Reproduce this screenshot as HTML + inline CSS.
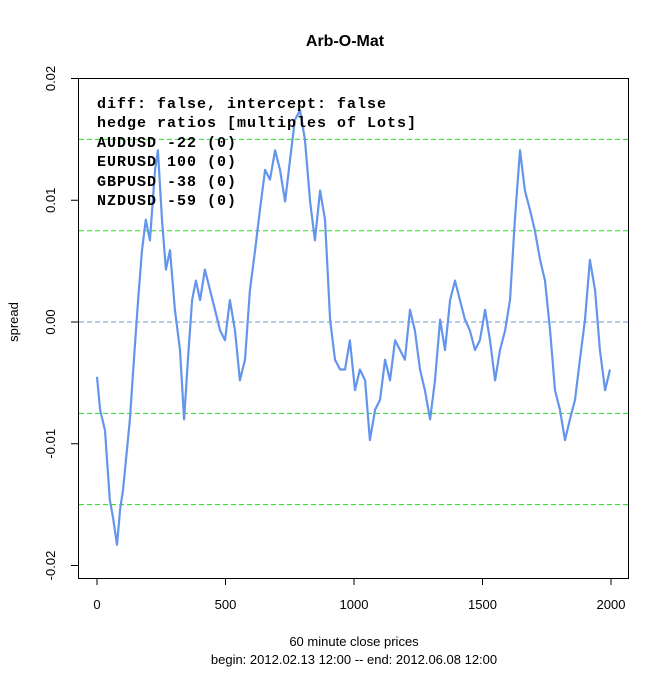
<!DOCTYPE html>
<html><head><meta charset="utf-8"><style>
body{margin:0;background:#fff}
svg text{font-family:"Liberation Sans",Arial,sans-serif}
</style></head><body>
<svg id="chart" width="672" height="672" xmlns="http://www.w3.org/2000/svg">
<rect width="672" height="672" fill="#fff"/>
<text x="345" y="46" text-anchor="middle" font-size="16" font-weight="bold">Arb-O-Mat</text>
<g id="grid"></g>
<g id="series"></g>
<rect x="78.5" y="78.5" width="550" height="500" fill="none" stroke="#000"/>
<g id="axes"></g>
<g font-weight="bold" font-size="15" letter-spacing="1">
<text x="97" y="108" style="font-family:'Liberation Mono',monospace">diff: false, intercept: false</text>
<text x="97" y="127" style="font-family:'Liberation Mono',monospace">hedge ratios [multiples of Lots]</text>
<text x="97" y="147" style="font-family:'Liberation Mono',monospace">AUDUSD -22 (0)</text>
<text x="97" y="166" style="font-family:'Liberation Mono',monospace">EURUSD 100 (0)</text>
<text x="97" y="186" style="font-family:'Liberation Mono',monospace">GBPUSD -38 (0)</text>
<text x="97" y="205" style="font-family:'Liberation Mono',monospace">NZDUSD -59 (0)</text>
</g>
<text transform="translate(18,322) rotate(-90)" text-anchor="middle" font-size="13">spread</text>
<text x="354" y="646" text-anchor="middle" font-size="13">60 minute close prices</text>
<text x="354" y="664" text-anchor="middle" font-size="13">begin: 2012.02.13 12:00 -- end: 2012.06.08 12:00</text>
</svg>
<script>
const xTicks=[0,500,1000,1500,2000];
const yTicks=[-0.02,-0.01,0.00,0.01,0.02];
const yTickLabels=["-0.02","-0.01","0.00","0.01","0.02"];
const bandLevels=[-0.015,-0.0075,0.0075,0.015];
const meanLevel=[0];
const idx=[0,12,31,50,62,78,90,101,113,128,144,160,175,190,206,226,237,253,268,284,303,323,339,354,370,385,401,420,440,459,479,498,517,537,556,576,595,615,634,654,673,693,712,732,751,770,790,809,829,848,868,887,907,926,946,965,984,1004,1023,1043,1062,1082,1101,1121,1140,1160,1179,1198,1218,1237,1257,1276,1296,1315,1335,1354,1374,1393,1412,1432,1451,1471,1490,1510,1529,1549,1568,1588,1607,1626,1646,1665,1685,1704,1724,1743,1763,1782,1801,1821,1840,1860,1879,1899,1918,1938,1957,1977,1996];
const spread=[-0.0045,-0.0072,-0.0089,-0.0146,-0.016,-0.0183,-0.0154,-0.0138,-0.0113,-0.008,-0.003,0.0018,0.0059,0.0084,0.0067,0.0125,0.0141,0.0084,0.0043,0.0059,0.001,-0.0023,-0.008,-0.003,0.0018,0.0034,0.0018,0.0043,0.0026,0.001,-0.0007,-0.0015,0.0018,-0.0007,-0.0048,-0.0031,0.0026,0.0059,0.0092,0.0125,0.0117,0.0141,0.0125,0.0099,0.0133,0.0166,0.0174,0.015,0.0099,0.0067,0.0108,0.0084,0.0002,-0.0031,-0.0039,-0.0039,-0.0015,-0.0056,-0.0039,-0.0048,-0.0097,-0.0072,-0.0064,-0.0031,-0.0048,-0.0015,-0.0023,-0.0031,0.001,-0.0007,-0.0039,-0.0056,-0.008,-0.0048,0.0002,-0.0023,0.0018,0.0034,0.0018,0.0002,-0.0007,-0.0023,-0.0015,0.001,-0.0015,-0.0048,-0.0023,-0.0007,0.0018,0.0084,0.0141,0.0108,0.0092,0.0075,0.0051,0.0034,-0.0007,-0.0056,-0.0072,-0.0097,-0.008,-0.0064,-0.0031,0.0002,0.0051,0.0026,-0.0023,-0.0056,-0.0039];
const NS="http://www.w3.org/2000/svg";
const sx=v=>97+v*0.257;
const sy=v=>322-v*12175;
function mk(tag,attrs,parent){const e=document.createElementNS(NS,tag);for(const k in attrs)e.setAttribute(k,attrs[k]);parent.appendChild(e);return e;}
const grid=document.getElementById('grid'),axes=document.getElementById('axes'),series=document.getElementById('series');
bandLevels.forEach(v=>{
 const l=mk('line',{x1:79,x2:628,y1:sy(v),y2:sy(v),stroke:'#22dd22','stroke-dasharray':'5,3'},grid);
 
 
});
meanLevel.forEach(v=>{
 const l=mk('line',{x1:79,x2:628,y1:sy(v),y2:sy(v),stroke:'#6f9be0','stroke-dasharray':'5,3'},grid);
 
 
});
const pts=idx.map((d,i)=>sx(d).toFixed(1)+','+sy(spread[i]).toFixed(1)).join(' ');
const pl=mk('polyline',{points:pts,fill:'none',stroke:'#6495ed','stroke-width':2.2,'stroke-linejoin':'round'},series);


xTicks.forEach(v=>{
 mk('line',{x1:sx(v),x2:sx(v),y1:578,y2:585,stroke:'#000'},axes);
 const t=mk('text',{x:sx(v),y:609,'text-anchor':'middle','font-size':13},axes);
 t.textContent=v;
 
 
});
yTicks.forEach((v,i)=>{
 mk('line',{x1:71,x2:78,y1:sy(v),y2:sy(v),stroke:'#000'},axes);
 const t=mk('text',{transform:`translate(55,${sy(v)}) rotate(-90)`,'text-anchor':'middle','font-size':13},axes);
 t.textContent=yTickLabels[i];
 
 
});
</script>
</body></html>
